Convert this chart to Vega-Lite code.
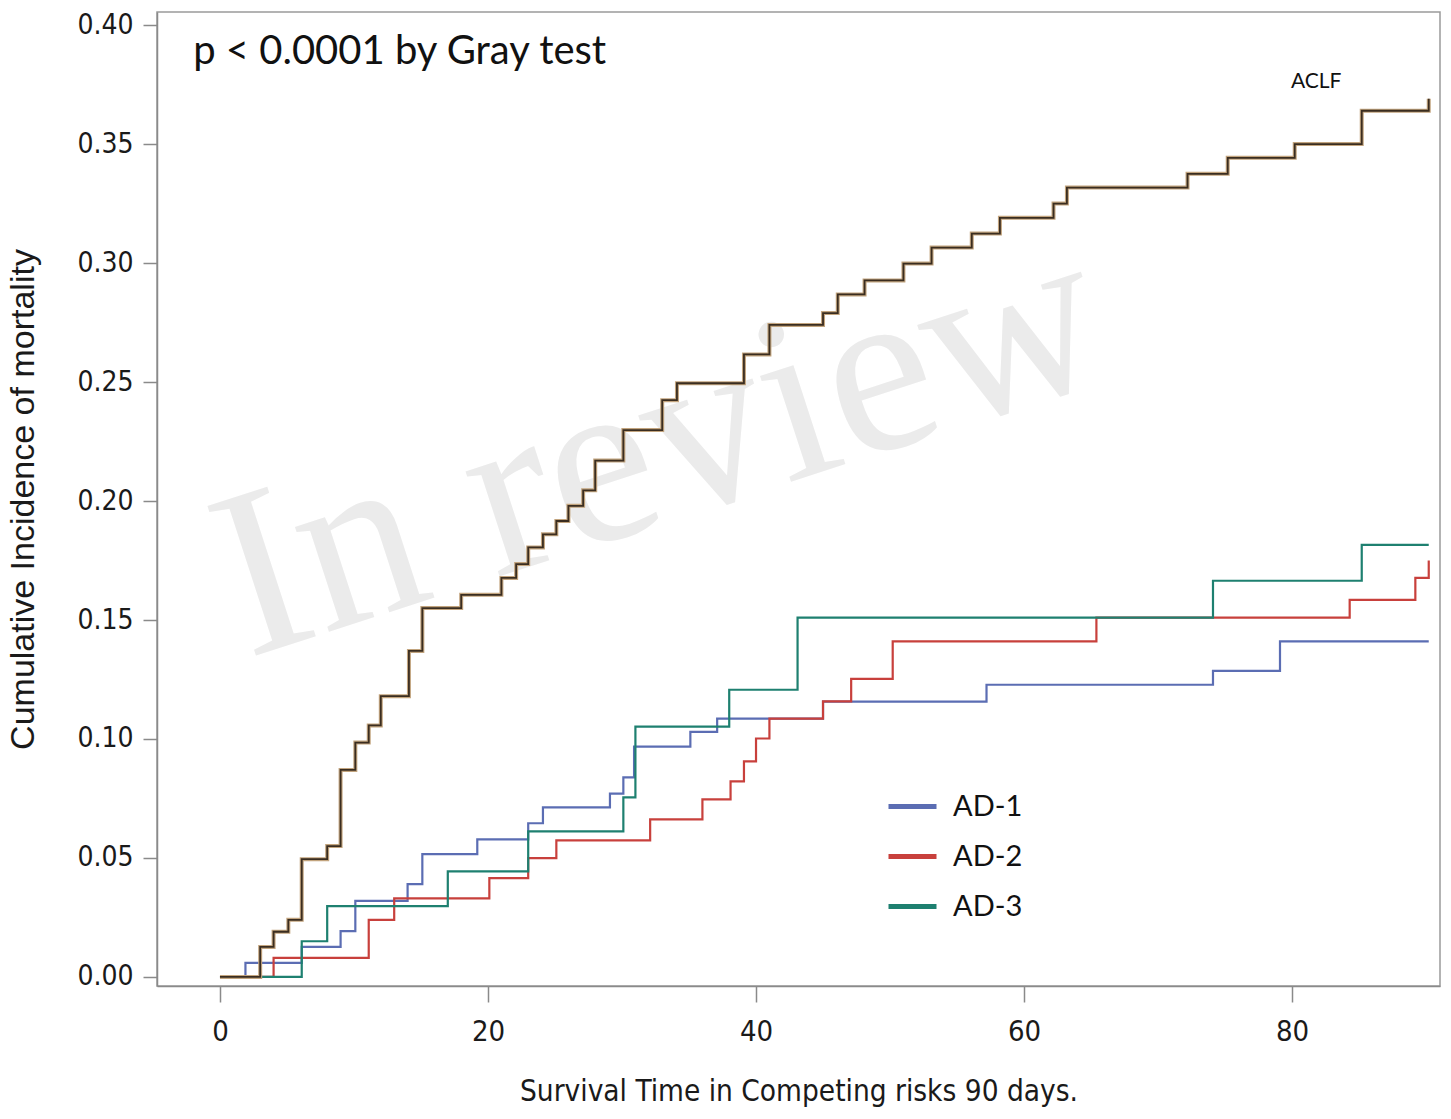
{
  "$schema": "https://vega.github.io/schema/vega-lite/v6.json",
  "width": 1283,
  "height": 974,
  "padding": {"left": 157, "top": 12, "right": 11, "bottom": 133},
  "autosize": {"type": "none"},
  "background": "white",
  "config": {
    "view": {"stroke": "#9a9a9a", "strokeWidth": 1.5},
    "axis": {"grid": false, "domainColor": "#8a8a8a", "domainWidth": 1.5, "tickColor": "#8a8a8a", "tickWidth": 1.5, "labelColor": "#1a1a1a", "titleColor": "#1a1a1a", "titleFontWeight": "normal"}
  },
  "datasets": {
    "aclf": [
      {"t": 0, "cif": 0}, {"t": 3.0, "cif": 0.0126}, {"t": 4.0, "cif": 0.019}, {"t": 5.1, "cif": 0.024},
      {"t": 6.1, "cif": 0.0495}, {"t": 8.0, "cif": 0.055}, {"t": 9.0, "cif": 0.087}, {"t": 10.1, "cif": 0.0985},
      {"t": 11.1, "cif": 0.1057}, {"t": 12.0, "cif": 0.118}, {"t": 14.1, "cif": 0.137}, {"t": 15.1, "cif": 0.155},
      {"t": 18.0, "cif": 0.1606}, {"t": 21.0, "cif": 0.1677}, {"t": 22.1, "cif": 0.1735}, {"t": 23.0, "cif": 0.1805},
      {"t": 24.1, "cif": 0.186}, {"t": 25.1, "cif": 0.1916}, {"t": 26.0, "cif": 0.198}, {"t": 27.1, "cif": 0.2045},
      {"t": 28.0, "cif": 0.217}, {"t": 30.1, "cif": 0.2298}, {"t": 33.0, "cif": 0.2424}, {"t": 34.1, "cif": 0.2495},
      {"t": 39.1, "cif": 0.2616}, {"t": 41.0, "cif": 0.274}, {"t": 45.0, "cif": 0.279}, {"t": 46.1, "cif": 0.2868},
      {"t": 48.1, "cif": 0.2927}, {"t": 51.0, "cif": 0.2998}, {"t": 53.1, "cif": 0.3065}, {"t": 56.1, "cif": 0.3124},
      {"t": 58.2, "cif": 0.319}, {"t": 62.2, "cif": 0.325}, {"t": 63.2, "cif": 0.3317}, {"t": 72.2, "cif": 0.3375},
      {"t": 75.2, "cif": 0.3442}, {"t": 80.2, "cif": 0.35}, {"t": 85.2, "cif": 0.364}, {"t": 90.2, "cif": 0.369}
    ],
    "ad": [
      {"group": "AD-1", "t": 0, "cif": 0}, {"group": "AD-1", "t": 1.9, "cif": 0.0059}, {"group": "AD-1", "t": 6.1, "cif": 0.0126},
      {"group": "AD-1", "t": 9.0, "cif": 0.0193}, {"group": "AD-1", "t": 10.1, "cif": 0.032}, {"group": "AD-1", "t": 14.0, "cif": 0.039},
      {"group": "AD-1", "t": 15.1, "cif": 0.0516}, {"group": "AD-1", "t": 19.2, "cif": 0.0578}, {"group": "AD-1", "t": 23.0, "cif": 0.0646},
      {"group": "AD-1", "t": 24.1, "cif": 0.0713}, {"group": "AD-1", "t": 29.1, "cif": 0.077}, {"group": "AD-1", "t": 30.1, "cif": 0.0839},
      {"group": "AD-1", "t": 30.9, "cif": 0.0968}, {"group": "AD-1", "t": 35.1, "cif": 0.103}, {"group": "AD-1", "t": 37.1, "cif": 0.1086},
      {"group": "AD-1", "t": 45.0, "cif": 0.1157}, {"group": "AD-1", "t": 57.2, "cif": 0.1228}, {"group": "AD-1", "t": 74.1, "cif": 0.1286},
      {"group": "AD-1", "t": 79.1, "cif": 0.141}, {"group": "AD-1", "t": 90.2, "cif": 0.141},
      {"group": "AD-2", "t": 0, "cif": 0}, {"group": "AD-2", "t": 4.0, "cif": 0.008}, {"group": "AD-2", "t": 11.1, "cif": 0.024},
      {"group": "AD-2", "t": 13.0, "cif": 0.033}, {"group": "AD-2", "t": 20.1, "cif": 0.0415}, {"group": "AD-2", "t": 23.0, "cif": 0.0499},
      {"group": "AD-2", "t": 25.1, "cif": 0.0574}, {"group": "AD-2", "t": 32.1, "cif": 0.0662}, {"group": "AD-2", "t": 36.0, "cif": 0.0746},
      {"group": "AD-2", "t": 38.1, "cif": 0.0822}, {"group": "AD-2", "t": 39.1, "cif": 0.0906}, {"group": "AD-2", "t": 40.0, "cif": 0.1002},
      {"group": "AD-2", "t": 41.0, "cif": 0.1086}, {"group": "AD-2", "t": 45.0, "cif": 0.1158}, {"group": "AD-2", "t": 47.1, "cif": 0.1253},
      {"group": "AD-2", "t": 50.2, "cif": 0.141}, {"group": "AD-2", "t": 65.4, "cif": 0.151}, {"group": "AD-2", "t": 84.3, "cif": 0.1585},
      {"group": "AD-2", "t": 89.2, "cif": 0.1677}, {"group": "AD-2", "t": 90.2, "cif": 0.175},
      {"group": "AD-3", "t": 0, "cif": 0}, {"group": "AD-3", "t": 6.1, "cif": 0.015}, {"group": "AD-3", "t": 8.0, "cif": 0.0298},
      {"group": "AD-3", "t": 17.0, "cif": 0.0444}, {"group": "AD-3", "t": 23.0, "cif": 0.0612}, {"group": "AD-3", "t": 30.1, "cif": 0.0755},
      {"group": "AD-3", "t": 31.0, "cif": 0.1052}, {"group": "AD-3", "t": 38.0, "cif": 0.1207}, {"group": "AD-3", "t": 43.1, "cif": 0.151},
      {"group": "AD-3", "t": 74.1, "cif": 0.1665}, {"group": "AD-3", "t": 85.2, "cif": 0.1816}, {"group": "AD-3", "t": 90.2, "cif": 0.1816}
    ],
    "notes": [
      {"kind": "wm", "t": 32.8, "cif": 0.222, "label": "In review"},
      {"kind": "p", "t": -2.0, "cif": 0.3887, "label": "p < 0.0001 by Gray test"},
      {"kind": "aclf", "t": 81.8, "cif": 0.376, "label": "ACLF"}
    ]
  },
  "encoding": {
    "x": {"field": "t", "type": "quantitative", "scale": {"domain": [-4.7, 91.04], "nice": false, "zero": false},
      "axis": {"values": [0, 20, 40, 60, 80], "title": "Survival Time in Competing risks 90 days.", "labelFont": "Liberation Sans Narrow, DejaVu Sans Condensed, sans-serif", "labelFontSize": 29, "tickSize": 16, "labelPadding": 15, "titleFont": "Liberation Sans Narrow, DejaVu Sans Condensed, sans-serif", "titleFontSize": 29.5, "titlePadding": 31}},
    "y": {"field": "cif", "type": "quantitative", "scale": {"domain": [-0.0038, 0.4055], "nice": false, "zero": false},
      "axis": {"values": [0, 0.05, 0.1, 0.15, 0.2, 0.25, 0.3, 0.35, 0.4], "format": ".2f", "title": "Cumulative Incidence of mortality", "labelFont": "Liberation Sans Narrow, DejaVu Sans Condensed, sans-serif", "labelFontSize": 28, "tickSize": 14, "labelPadding": 10, "titleFont": "Liberation Sans, Arial, sans-serif", "titleFontSize": 34, "titlePadding": 36}}
  },
  "layer": [
    {
      "data": {"name": "notes"},
      "transform": [{"filter": "datum.kind == 'wm'"}],
      "mark": {"type": "text", "font": "Liberation Serif, DejaVu Serif, serif", "fontSize": 240, "angle": -18, "color": "#ebebeb", "align": "center", "baseline": "middle"},
      "encoding": {"text": {"field": "label"}}
    },
    {
      "data": {"name": "ad"},
      "mark": {"type": "line", "interpolate": "step-after", "strokeWidth": 2.2},
      "encoding": {
        "color": {"field": "group", "type": "nominal",
          "scale": {"domain": ["AD-1", "AD-2", "AD-3"], "range": ["#5b6db3", "#c8403c", "#1e8070"]},
          "legend": {"title": null, "orient": "none", "legendX": 729, "legendY": 768, "symbolType": "stroke", "symbolSize": 2304, "symbolStrokeWidth": 5, "labelFont": "Lato, Open Sans, sans-serif", "labelFontSize": 29, "labelColor": "#111", "labelOffset": 14, "rowPadding": 8, "symbolOpacity": 1}}
      }
    },
    {
      "data": {"name": "aclf"},
      "mark": {"type": "line", "interpolate": "step-after", "strokeWidth": 4, "color": "#c2a47e"},
      "encoding": {}
    },
    {
      "data": {"name": "aclf"},
      "mark": {"type": "line", "interpolate": "step-after", "strokeWidth": 1.8, "color": "#3a2d20"},
      "encoding": {}
    },
    {
      "data": {"name": "notes"},
      "transform": [{"filter": "datum.kind == 'p'"}],
      "mark": {"type": "text", "font": "Lato, Open Sans, sans-serif", "fontSize": 40, "align": "left", "baseline": "middle", "color": "#111"},
      "encoding": {"text": {"field": "label"}}
    },
    {
      "data": {"name": "notes"},
      "transform": [{"filter": "datum.kind == 'aclf'"}],
      "mark": {"type": "text", "font": "Lato, Open Sans, sans-serif", "fontSize": 21, "align": "center", "baseline": "middle", "color": "#111"},
      "encoding": {"text": {"field": "label"}}
    }
  ]
}
